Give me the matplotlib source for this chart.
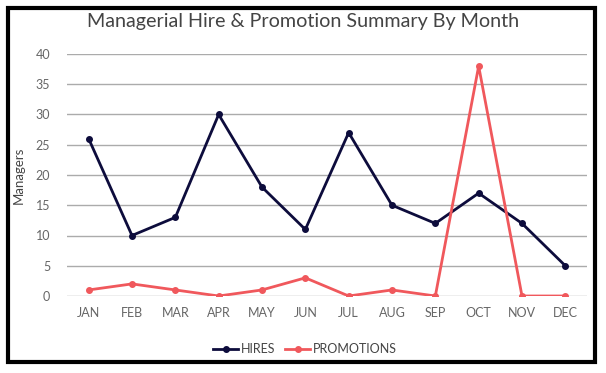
import numpy as np
import matplotlib.pyplot as plt
from matplotlib.patches import Rectangle

months = ["JAN", "FEB", "MAR", "APR", "MAY", "JUN", "JUL", "AUG", "SEP", "OCT", "NOV", "DEC"]
hires = [26, 10, 13, 30, 18, 11, 27, 15, 12, 17, 12, 5]
promotions = [1, 2, 1, 0, 1, 3, 0, 1, 0, 38, 0, 0]

plt.rcParams['font.family'] = ['Lato', 'DejaVu Sans']

fig = plt.figure(figsize=(6.06, 3.73), dpi=100)
ax = fig.add_axes([67/606, 1-296/373, (587-67)/606, (296-54)/373])

x = np.arange(len(months))
ax.plot(x, hires, color="#0d0c3c", lw=2, marker="o", ms=4, label="HIRES")
ax.plot(x, promotions, color="#f0585c", lw=2, marker="o", ms=4, label="PROMOTIONS")

ax.set_xlim(-0.5, len(months) - 0.5)
ax.set_ylim(0, 40)
ax.set_yticks(range(0, 41, 5))
ax.set_xticks(x)
ax.set_xticklabels(months)
ax.grid(axis="y", color="#ababab", lw=1)
ax.set_axisbelow(True)
for s in ax.spines.values():
    s.set_visible(False)
ax.tick_params(length=0, labelsize=9, colors="#666666", pad=8)
ax.tick_params(axis="y", pad=12)
ax.set_ylabel("Managers", fontsize=9.5, color="#444444", labelpad=8)

fig.text(0.5, 1-22/373, "Managerial Hire & Promotion Summary By Month",
         ha="center", va="center", fontsize=14.2, color="#444444")

ax.legend(loc="center", bbox_to_anchor=(305/606, 1-349/373), bbox_transform=fig.transFigure,
          ncol=2, frameon=False, fontsize=9, handlelength=2, handletextpad=0.2,
          columnspacing=0.8, labelcolor="#444444")

fig.patches.append(Rectangle((8/606, 1-362/373), (595-8)/606, (362-8)/373,
                             transform=fig.transFigure, fill=False, ec="black", lw=3))

fig.savefig("out.png", dpi=100)
